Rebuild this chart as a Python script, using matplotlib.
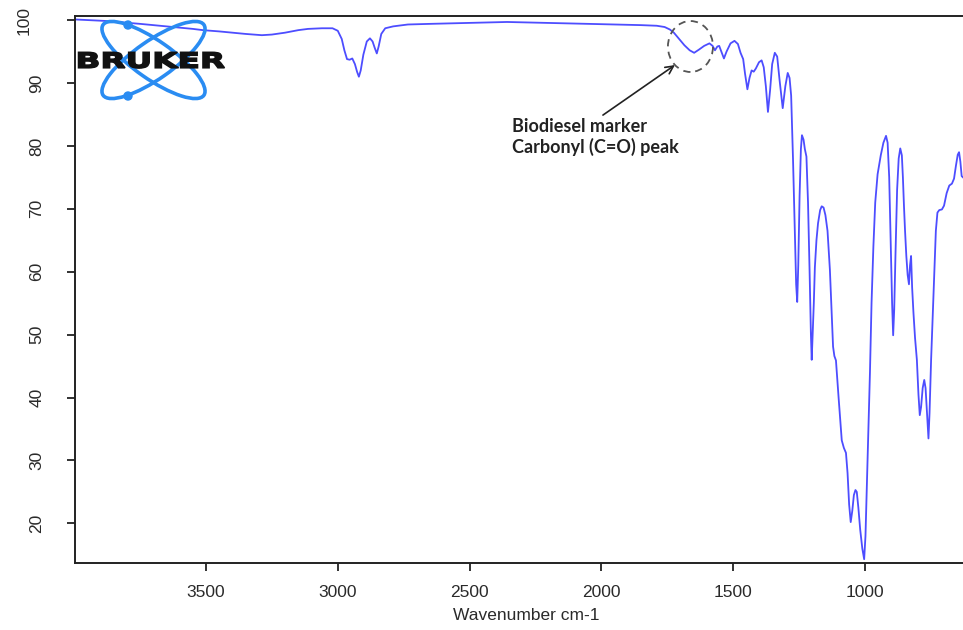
import matplotlib
matplotlib.use("Agg")
import matplotlib.pyplot as plt
import matplotlib.transforms as mtransforms
from matplotlib.patches import Ellipse, Circle, PathPatch
from matplotlib.textpath import TextPath
from matplotlib.font_manager import FontProperties

# FTIR spectrum (biodiesel)
wavenumber = [3997, 3950, 3900, 3850, 3807, 3750, 3700, 3650, 3600, 3550, 3511, 3450,
              3400, 3350, 3288, 3250, 3200, 3150, 3113, 3060, 3020, 3000, 2985, 2975,
              2965, 2955, 2945, 2935, 2927, 2920, 2913, 2903, 2890, 2878, 2868, 2860,
              2852, 2845, 2835, 2820, 2790, 2734, 2650, 2550, 2461, 2358, 2250, 2150,
              2050, 1950, 1850, 1790, 1760, 1740, 1725, 1705, 1685, 1665, 1648, 1630,
              1610, 1590, 1578, 1569, 1560, 1553, 1545, 1535, 1525, 1510, 1495, 1482,
              1472, 1462, 1455, 1446, 1438, 1430, 1422, 1414, 1402, 1392, 1384, 1376,
              1368, 1360, 1352, 1342, 1333, 1324, 1312, 1302, 1293, 1286, 1280, 1273,
              1266, 1261, 1257, 1253, 1248, 1243, 1239, 1233, 1228, 1222, 1216, 1210,
              1205, 1202, 1198, 1194, 1190, 1184, 1178, 1170, 1164, 1157, 1150, 1142,
              1133, 1127, 1121, 1116, 1110, 1100, 1088, 1080, 1072, 1066, 1060, 1054,
              1048, 1042, 1036, 1031, 1025, 1018, 1010, 1003, 998, 992, 986, 981,
              975, 968, 961, 952, 940, 930, 920, 914, 908, 902, 897, 893,
              889, 884, 878, 872, 866, 860, 856, 852, 848, 843, 838, 833,
              829, 825, 821, 816, 810, 803, 797, 792, 787, 781, 775, 770,
              764, 759, 755, 749, 743, 737, 731, 725, 718, 708, 700, 690,
              680, 670, 662, 655, 648, 643, 638, 633, 628]
transmittance = [100.1, 100.0, 99.9, 99.8, 99.6, 99.4, 99.2, 99.0, 98.8, 98.6, 98.4, 98.2,
                 98.0, 97.8, 97.6, 97.7, 98.0, 98.4, 98.6, 98.7, 98.7, 98.3, 97.0, 95.2,
                 93.8, 93.7, 93.9, 93.0, 91.8, 91.0, 92.0, 94.5, 96.6, 97.1, 96.6, 95.6,
                 94.7, 95.8, 97.8, 98.7, 99.0, 99.3, 99.4, 99.5, 99.6, 99.7, 99.6, 99.5,
                 99.4, 99.3, 99.2, 99.1, 98.9, 98.5, 98.0, 97.0, 96.0, 95.2, 94.8, 95.3,
                 95.9, 96.3, 95.9, 95.2, 95.8, 95.9, 95.0, 93.9, 95.0, 96.3, 96.7, 96.2,
                 94.8, 93.8, 91.5, 89.0, 90.8, 92.0, 91.8, 92.3, 93.3, 93.6, 92.5, 89.5,
                 85.4, 88.8, 93.0, 94.8, 94.2, 90.5, 86.0, 89.5, 91.6, 90.8, 88.0, 78.0,
                 66.0, 58.0, 55.2, 61.0, 72.0, 79.5, 81.7, 81.0, 79.5, 78.3, 71.0, 60.0,
                 50.0, 46.0, 50.5, 55.0, 60.7, 65.0, 67.7, 69.8, 70.4, 70.2, 69.0, 66.5,
                 60.3, 54.0, 48.1, 46.6, 45.9, 40.0, 33.2, 32.0, 31.2, 28.0, 23.0, 20.2,
                 22.0, 24.5, 25.3, 25.0, 22.5, 19.0, 16.0, 14.3, 18.0, 27.0, 36.0, 44.0,
                 55.0, 64.0, 71.0, 75.5, 78.5, 80.5, 81.6, 80.5, 75.0, 64.0, 55.0, 49.9,
                 54.0, 63.0, 73.0, 78.0, 79.6, 78.5, 75.0, 70.5, 66.6, 62.5, 59.5, 58.0,
                 61.0, 62.5, 57.5, 53.5, 49.5, 46.0, 40.5, 37.2, 38.5, 41.5, 42.8, 41.5,
                 37.0, 33.5, 37.5, 46.0, 52.8, 60.0, 66.5, 69.4, 69.8, 69.9, 70.5, 72.5,
                 73.7, 74.0, 74.8, 76.8, 78.6, 79.0, 77.5, 75.2, 75.0]

x_ticks = [3500, 3000, 2500, 2000, 1500, 1000]
y_ticks = [20, 30, 40, 50, 60, 70, 80, 90, 100]

W, H = 963, 630
fig = plt.figure(figsize=(W / 100, H / 100), dpi=100)
ax = fig.add_axes([75 / W, 1 - 563 / H, (W - 75) / W, (563 - 16) / H])

ax.plot(wavenumber, transmittance, color="#4d4dff", lw=1.3)
ax.set_xlim(3997, 628)
ax.set_ylim(13.7, 100.65)

ax.spines["right"].set_visible(False)
for s in ["left", "bottom", "top"]:
    ax.spines[s].set_linewidth(1.4)
    ax.spines[s].set_color("#222222")

ax.set_xticks(x_ticks)
ax.set_yticks(y_ticks)
ax.tick_params(direction="out", length=5.5, width=1.3, color="#222222",
               labelsize=12.5, labelcolor="#2a2a2a")
ax.tick_params(axis="x", pad=10)
ax.tick_params(axis="y", pad=16, labelrotation=90, length=6)
for lbl in ax.get_xticklabels() + ax.get_yticklabels():
    lbl.set_family("Liberation Sans")
for lbl in ax.get_yticklabels():
    lbl.set_va("center")
# the "100" label sits further left in the original
top_lbl = ax.get_yticklabels()[-1]
top_lbl.set_transform(top_lbl.get_transform() +
                      mtransforms.ScaledTranslation(-13 / 100, 0, fig.dpi_scale_trans))

ax.set_xlabel("Wavenumber cm-1", fontsize=12.5, family="Liberation Sans", color="#2a2a2a")
ax.xaxis.set_label_coords(0.508, -0.083)

# annotation for carbonyl peak
ax.add_patch(Ellipse((1662, 95.8), 171, 8.1, fill=False, ls=(0, (4, 3)),
                     ec="#555555", lw=1.3, zorder=3))
ax.annotate("", xy=(1721, 92.85), xytext=(1994, 84.9),
            arrowprops=dict(arrowstyle="->", color="#222222", lw=1.2,
                            shrinkA=0, shrinkB=0, mutation_scale=14))
ax.text(2339, 84.5, "Biodiesel marker\nCarbonyl (C=O) peak", family="Lato",
        weight="bold", fontsize=13, va="top", ha="left", color="#222222",
        linespacing=1.25)

# Bruker logo (pixel coordinates)
lax = fig.add_axes([75 / W, 1 - 106 / H, 160 / W, 90 / H])
lax.set_xlim(75, 235)
lax.set_ylim(106, 16)
lax.axis("off")
logo_blue = "#2a8cf2"
for ang in (35, -35):
    lax.add_patch(Ellipse((153.5, 60), 123, 38, angle=ang, fill=False,
                          ec=logo_blue, lw=2.6))
lax.add_patch(Circle((128, 25), 4, color=logo_blue))
lax.add_patch(Circle((128, 96), 4, color=logo_blue))

tp = TextPath((0, 0), "BRUKER", size=1, prop=FontProperties(family="DejaVu Sans", weight="bold"))
bb = tp.get_extents()
tr = (mtransforms.Affine2D().translate(-bb.x0, 0)
      .scale(146 / bb.width, -15.5 / bb.y1).translate(78.5, 67.8))
lax.add_patch(PathPatch(tr.transform_path(tp), fc="#111111", ec="#111111",
                        lw=1.1, joinstyle="miter"))

fig.savefig("out.png", dpi=100)
